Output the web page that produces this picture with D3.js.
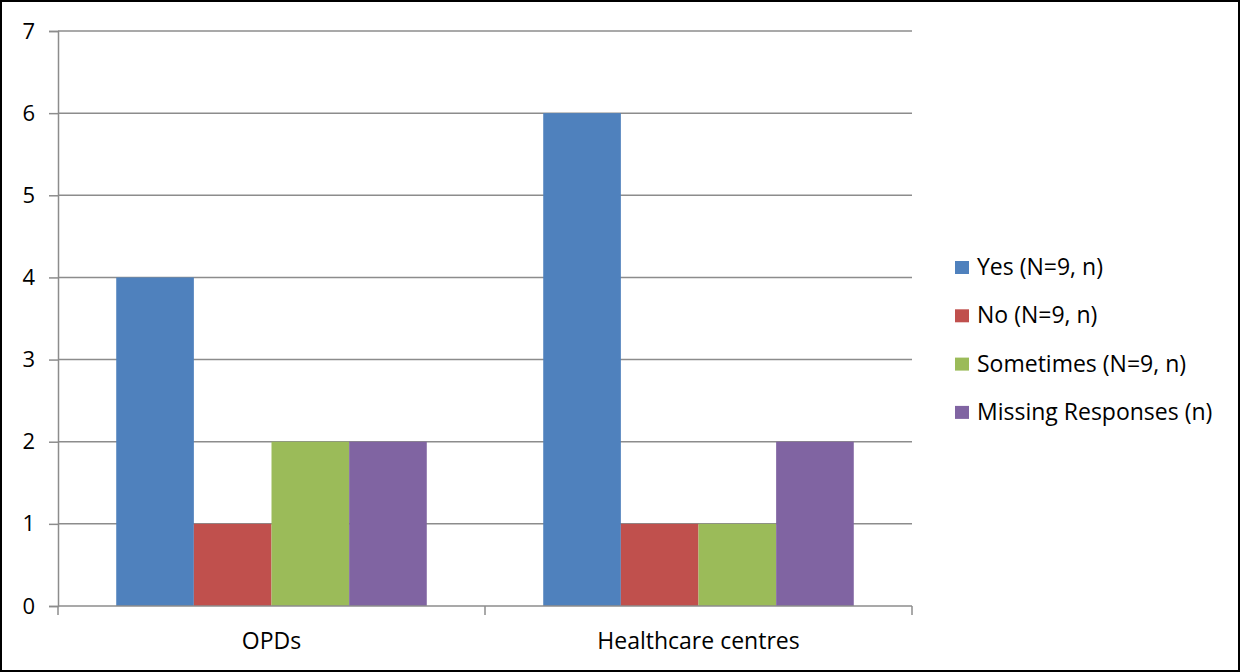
<!DOCTYPE html>
<html>
<head>
<meta charset="utf-8">
<script src="https://cdn.jsdelivr.net/npm/d3@7"></script>
<style>
  body { margin: 0; background: #fff; }
  svg { display: block; font-family: "Open Sans", "Liberation Sans", sans-serif; }
</style>
</head>
<body>
<div id="chart"></div>
<script>
const categories = ['OPDs', 'Healthcare centres'];
const seriesNames = ['Yes (N=9, n)', 'No (N=9, n)', 'Sometimes (N=9, n)', 'Missing Responses (n)'];
const seriesColors = ['#4F81BD', '#C0504D', '#9BBB59', '#8064A2'];
const yesValues = [4, 6];
const noValues = [1, 1];
const sometimesValues = [2, 1];
const missingValues = [2, 2];
const yTicks = [0, 1, 2, 3, 4, 5, 6, 7];

const seriesValues = [yesValues, noValues, sometimesValues, missingValues];

const W = 1240, H = 672;
const plot = {left: 58, right: 912, top: 31, bottom: 606};

const svg = d3.select('#chart').append('svg')
    .attr('width', W)
    .attr('height', H);

// outer border
svg.append('rect')
    .attr('x', 1).attr('y', 1)
    .attr('width', W - 2).attr('height', H - 2)
    .attr('fill', '#fff')
    .attr('stroke', '#000')
    .attr('stroke-width', 2);

const x0 = d3.scaleBand()
    .domain(categories)
    .range([plot.left, plot.right])
    .paddingInner(0)
    .paddingOuter(0);

const x1 = d3.scaleBand()
    .domain(seriesNames)
    .range([0, x0.bandwidth()])
    .paddingInner(0)
    .paddingOuter(0.75);

const y = d3.scaleLinear()
    .domain([0, 7])
    .range([plot.bottom, plot.top]);

// gridlines
svg.append('g')
    .selectAll('line')
    .data(yTicks.filter(t => t > 0))
    .enter()
    .append('line')
    .attr('x1', plot.left)
    .attr('x2', plot.right)
    .attr('y1', d => y(d))
    .attr('y2', d => y(d))
    .attr('stroke', '#8c8c8c')
    .attr('stroke-width', 1.5);

// bars
const rows = categories.map((c, i) => ({cat: c, vals: seriesValues.map((s, k) => ({key: seriesNames[k], value: s[i], color: seriesColors[k]}))}));

svg.append('g')
    .selectAll('g')
    .data(rows)
    .enter()
    .append('g')
    .attr('transform', d => `translate(${x0(d.cat)},0)`)
    .selectAll('rect')
    .data(d => d.vals)
    .enter()
    .append('rect')
    .attr('x', d => x1(d.key))
    .attr('width', x1.bandwidth())
    .attr('y', d => y(d.value))
    .attr('height', d => y(0) - y(d.value))
    .attr('fill', d => d.color);

// y axis
const yAxis = d3.axisLeft(y).tickValues(yTicks).tickFormat(d3.format('d')).tickSize(9).tickPadding(14);
const yg = svg.append('g')
    .attr('transform', `translate(${plot.left},0)`)
    .call(yAxis);
yg.select('.domain').attr('stroke', '#8c8c8c').attr('stroke-width', 1.5);
yg.selectAll('.tick line').attr('stroke', '#8c8c8c').attr('stroke-width', 1.5);
yg.selectAll('.tick text')
    .attr('fill', '#000')
    .style('font-size', '22px')
    .style('font-family', '"Open Sans", sans-serif');

// x axis
const xg = svg.append('g')
    .attr('transform', `translate(0,${plot.bottom})`);
xg.append('line')
    .attr('x1', plot.left).attr('x2', plot.right)
    .attr('stroke', '#8c8c8c').attr('stroke-width', 1.5);
const xTickPos = [plot.left].concat(categories.map(c => x0(c) + x0.bandwidth()));
xg.selectAll('.xt')
    .data(xTickPos)
    .enter()
    .append('line')
    .attr('class', 'xt')
    .attr('x1', d => d).attr('x2', d => d)
    .attr('y1', 0).attr('y2', 9)
    .attr('stroke', '#8c8c8c').attr('stroke-width', 1.5);
xg.selectAll('.xl')
    .data(categories)
    .enter()
    .append('text')
    .attr('class', 'xl')
    .attr('x', d => x0(d) + x0.bandwidth() / 2)
    .attr('y', 43)
    .attr('text-anchor', 'middle')
    .style('font-size', '23px')
    .text(d => d);

// legend
const legend = svg.append('g')
    .attr('transform', 'translate(955, 267)');

seriesNames.forEach((name, i) => {
    const row = legend.append('g')
        .attr('transform', `translate(0, ${i * 48.3})`);
    row.append('rect')
        .attr('y', -6)
        .attr('width', 14)
        .attr('height', 13)
        .attr('fill', seriesColors[i]);
    row.append('text')
        .attr('x', 22)
        .attr('y', 8)
        .style('font-size', '23px')
        .text(name);
});
</script>
</body>
</html>
